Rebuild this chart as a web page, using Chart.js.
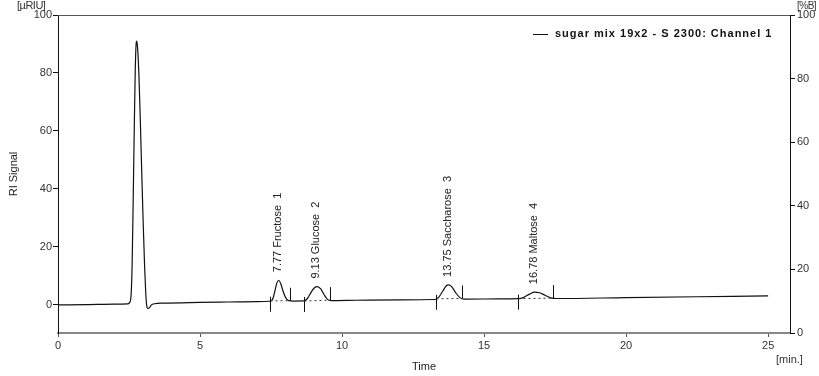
<!DOCTYPE html>
<html>
<head>
<meta charset="utf-8">
<script src="https://cdn.jsdelivr.net/npm/chart.js@4.4.1/dist/chart.umd.min.js"></script>
<style>
  html, body { margin: 0; padding: 0; background: #fff; }
  #wrap { width: 819px; height: 376px; }
</style>
</head>
<body>
<div id="wrap"><canvas id="chroma" width="819" height="376"></canvas></div>
<script>
// trace (time in min, RI signal in µRIU)
const times = [0, 1.0, 2.0, 2.45, 2.52, 2.57, 2.61, 2.65, 2.69, 2.72, 2.75, 2.77, 2.80, 2.85, 2.90, 2.95, 3.00, 3.05, 3.09, 3.12, 3.16, 3.21, 3.28, 3.40, 3.7,
  5.0, 6.0, 7.0, 7.45, 7.55, 7.63, 7.70, 7.77, 7.84, 7.92, 8.02, 8.12, 8.3,
  8.66, 8.78, 8.92, 9.03, 9.13, 9.25, 9.37, 9.48, 9.6, 10.5, 12.0,
  13.25, 13.40, 13.55, 13.66, 13.75, 13.85, 14.0, 14.15, 14.3, 15.5,
  16.2, 16.4, 16.6, 16.78, 16.95, 17.15, 17.35, 17.55, 20.0, 22.5, 25.0];
const signal = [0.0, 0.1, 0.25, 0.35, 0.8, 3, 14, 38, 64, 81, 90, 91, 89, 79, 63, 45, 28, 13, 4, 0, -1.2, -1.1, -0.1, 0.4, 0.6,
  0.85, 1.0, 1.15, 1.25, 1.8, 4.5, 7.4, 8.5, 7.4, 4.8, 2.4, 1.45, 1.3,
  1.35, 2.2, 4.5, 5.9, 6.3, 5.5, 3.5, 2.0, 1.5, 1.6, 1.75,
  1.85, 2.6, 4.8, 6.5, 6.9, 6.4, 4.2, 2.5, 2.0, 2.05,
  2.15, 2.6, 3.7, 4.4, 4.2, 3.3, 2.4, 2.2, 2.5, 2.8, 3.1];

const peakTimes = [7.77, 9.13, 13.75, 16.78];
const peakNames = ['Fructose', 'Glucose', 'Saccharose', 'Maltose'];
const peakNumbers = [1, 2, 3, 4];
const peakStart = [7.48, 8.66, 13.30, 16.20];
const peakEnd = [8.16, 9.57, 14.24, 17.41];

const xTicks = [0, 5, 10, 15, 20, 25];
const leftTicks = [0, 20, 40, 60, 80, 100];
const rightTicks = [0, 20, 40, 60, 80, 100];

const seriesName = 'sugar mix 19x2 - S 2300: Channel 1';
const FONT = '"Liberation Sans", Arial, sans-serif';

// linear lookup on the trace, used for peak baseline markers
function traceAt(t) {
    for (let i = 1; i < times.length; i++) {
        if (t <= times[i]) {
            const f = (t - times[i - 1]) / (times[i] - times[i - 1]);
            return signal[i - 1] + f * (signal[i] - signal[i - 1]);
        }
    }
    return signal[signal.length - 1];
}

const extras = {
    id: 'extras',
    afterDatasetsDraw(chart) {
        const { ctx, chartArea: a, scales } = chart;
        const x = scales.x, y = scales.y;
        ctx.save();

        // top frame line
        ctx.strokeStyle = '#555';
        ctx.lineWidth = 1;
        ctx.beginPath();
        ctx.moveTo(a.left, a.top + 0.5);
        ctx.lineTo(a.right, a.top + 0.5);
        ctx.stroke();

        // peak baselines, start/end markers and labels
        peakTimes.forEach((t, i) => {
            const xs = Math.round(x.getPixelForValue(peakStart[i])) + 0.5;
            const xe = Math.round(x.getPixelForValue(peakEnd[i])) + 0.5;
            const ys = y.getPixelForValue(traceAt(peakStart[i]));
            const ye = y.getPixelForValue(traceAt(peakEnd[i]));

            ctx.strokeStyle = '#333';
            ctx.lineWidth = 1;
            ctx.setLineDash([2, 3]);
            ctx.beginPath();
            ctx.moveTo(xs, ys);
            ctx.lineTo(xe, ye);
            ctx.stroke();
            ctx.setLineDash([]);

            ctx.strokeStyle = '#111';
            ctx.beginPath();
            ctx.moveTo(xs, ys - 4);
            ctx.lineTo(xs, ys + 11);
            ctx.moveTo(xe, ye);
            ctx.lineTo(xe, ye - 13);
            ctx.stroke();

            const px = x.getPixelForValue(t);
            const py = y.getPixelForValue(traceAt(t));
            ctx.save();
            ctx.translate(px - 1, py - 8);
            ctx.rotate(-Math.PI / 2);
            ctx.fillStyle = '#222';
            ctx.font = '11px ' + FONT;
            ctx.textAlign = 'left';
            ctx.textBaseline = 'middle';
            ctx.fillText(t.toFixed(2) + ' ' + peakNames[i] + '  ' + peakNumbers[i], 0, 0);
            ctx.restore();
        });

        // legend
        const ly = a.top + 19;
        ctx.strokeStyle = '#111';
        ctx.lineWidth = 1;
        ctx.beginPath();
        ctx.moveTo(a.right - 257, ly + 0.5);
        ctx.lineTo(a.right - 242, ly + 0.5);
        ctx.stroke();
        ctx.fillStyle = '#111';
        ctx.font = 'bold 11px ' + FONT;
        ctx.letterSpacing = '1px';
        ctx.textAlign = 'left';
        ctx.textBaseline = 'middle';
        ctx.fillText(seriesName, a.right - 235, ly);

        // unit labels
        ctx.letterSpacing = '-0.5px';
        ctx.fillStyle = '#333';
        ctx.font = '11px ' + FONT;
        ctx.fillText('[µRIU]', 17, 6);
        ctx.font = '10px ' + FONT;
        ctx.fillText('[%B]', a.right + 7, 6);
        ctx.letterSpacing = '0px';
        ctx.font = '11px ' + FONT;
        ctx.fillText('[min.]', a.right - 14, 360);

        ctx.restore();
    }
};

new Chart(document.getElementById('chroma'), {
    type: 'line',
    data: {
        datasets: [{
            label: seriesName,
            data: times.map((t, i) => ({ x: t, y: signal[i] })),
            borderColor: '#111',
            borderWidth: 1.2,
            pointRadius: 0,
            cubicInterpolationMode: 'monotone',
            fill: false,
            yAxisID: 'y'
        }]
    },
    options: {
        responsive: false,
        animation: false,
        devicePixelRatio: 1,
        layout: { padding: { top: 15, left: 0, right: 0, bottom: 0 } },
        plugins: {
            legend: { display: false },
            tooltip: { enabled: false }
        },
        scales: {
            x: {
                type: 'linear',
                min: 0,
                max: 25.77,
                afterBuildTicks: s => { s.ticks = xTicks.map(v => ({ value: v })); },
                afterFit: s => { s.height = 43; },
                grid: { drawOnChartArea: false, tickLength: 4, color: '#555' },
                border: { color: '#888', width: 2 },
                ticks: { color: '#333', font: { family: FONT, size: 11 }, padding: 2, maxRotation: 0 },
                title: { display: true, text: 'Time', color: '#222', font: { family: FONT, size: 11 }, padding: { top: 4, bottom: 2 } }
            },
            y: {
                position: 'left',
                min: -9.7,
                max: 100,
                afterBuildTicks: s => { s.ticks = leftTicks.map(v => ({ value: v })); },
                afterFit: s => { s.width = 58; },
                grid: { drawOnChartArea: false, tickLength: 5, color: '#111' },
                border: { color: '#111', width: 1 },
                ticks: { color: '#333', font: { family: FONT, size: 11 }, padding: 1 },
                title: { display: true, text: 'RI Signal', color: '#222', font: { family: FONT, size: 11 }, padding: { top: 7, bottom: 0 } }
            },
            y2: {
                position: 'right',
                min: 0,
                max: 100,
                afterBuildTicks: s => { s.ticks = rightTicks.map(v => ({ value: v })); },
                afterFit: s => { s.width = 29; },
                grid: { drawOnChartArea: false, tickLength: 5, color: '#111' },
                border: { color: '#111', width: 1 },
                ticks: { color: '#333', font: { family: FONT, size: 11 }, padding: 2 }
            }
        }
    },
    plugins: [extras]
});
</script>
</body>
</html>
